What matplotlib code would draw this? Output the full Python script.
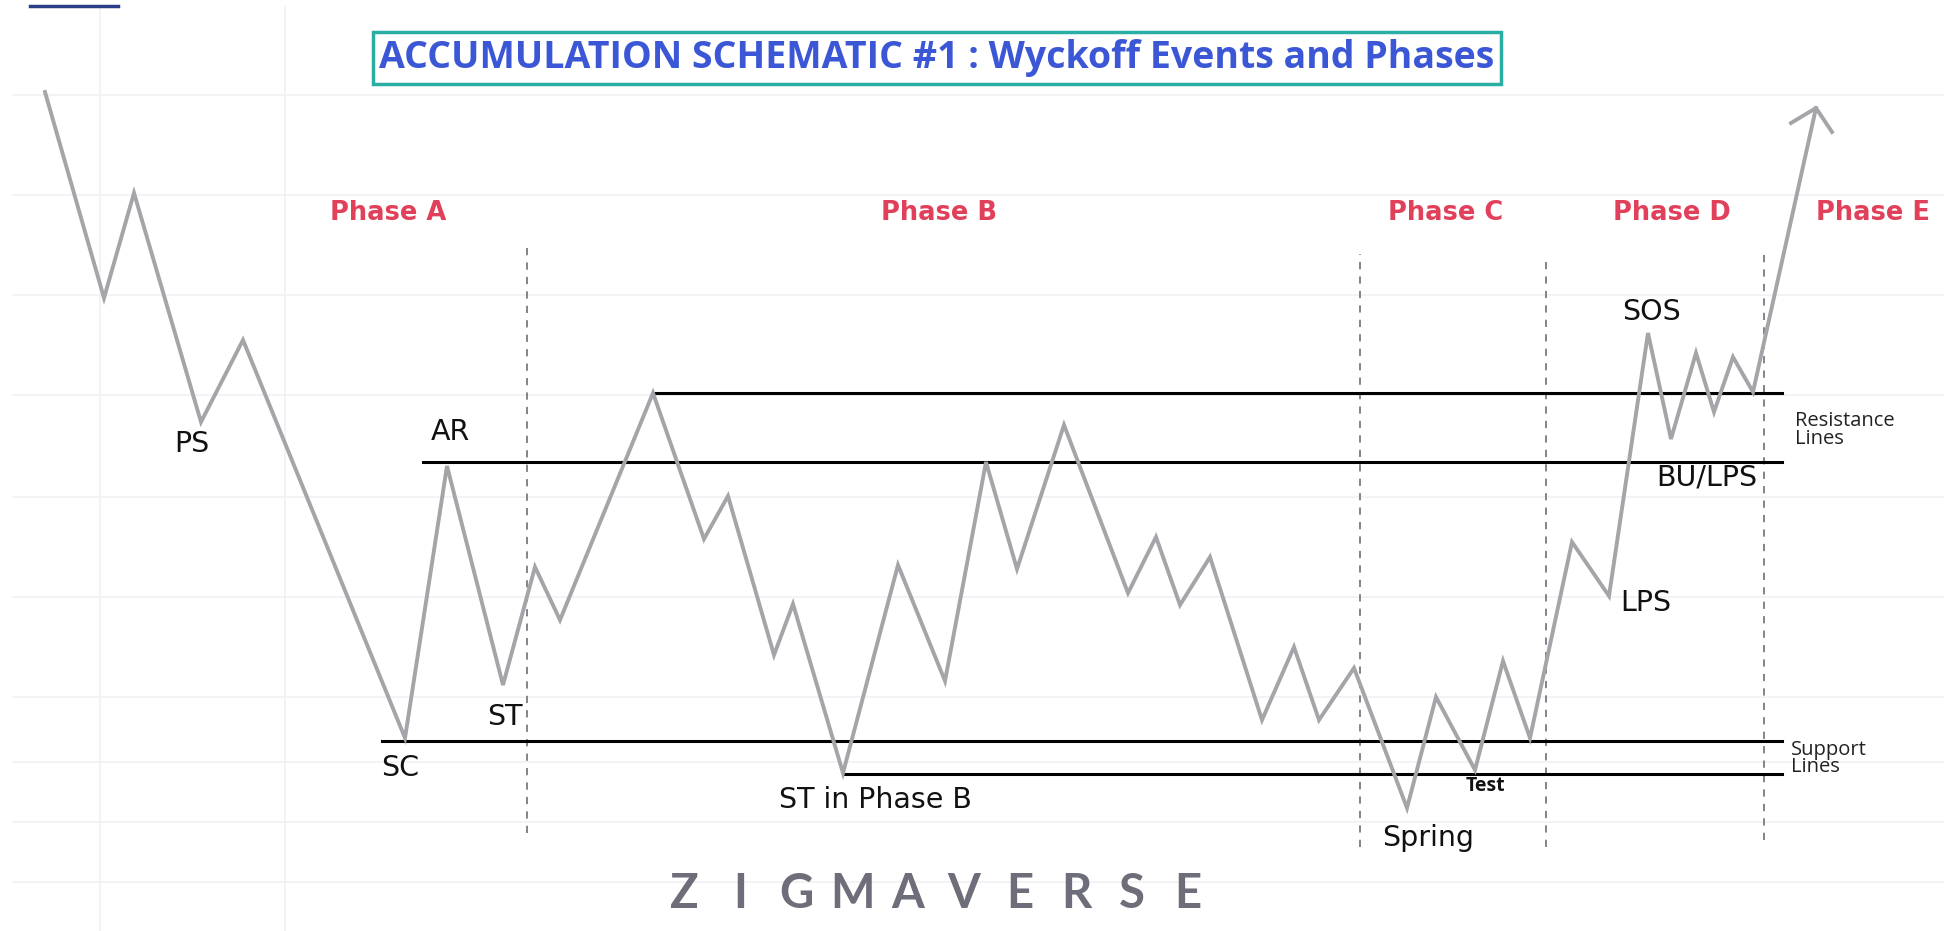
import numpy as np
import matplotlib.pyplot as plt

# price path of the schematic (time, price)
t = [45, 104, 134, 201, 243, 405, 447, 503, 535, 560, 653, 704, 728, 774, 793,
     843, 898, 945, 986, 1017, 1064, 1128, 1156, 1180, 1210, 1262, 1294, 1319,
     1354, 1407, 1436, 1475, 1503, 1530, 1572, 1609, 1648, 1671, 1696, 1714,
     1733, 1753, 1816]
price = [839, 633, 738, 509, 591, 193, 465, 246, 364, 311, 538, 392, 435, 276,
         327, 158, 366, 250, 469, 362, 506, 338, 394, 326, 374, 211, 284, 211,
         263, 123, 234, 161, 270, 193, 389, 335, 598, 492, 578, 519, 574, 539, 823]

# arrow head at the end of the markup
arrow_t = [1791, 1816, 1832]
arrow_p = [808, 823, 799]

# resistance / support levels (level, start, end)
levels = [538, 469, 190, 157]
level_start = [653, 423, 382, 843]
level_end = 1782

# phase dividers
div_t = [527, 1360, 1546, 1764]
div_top = [683, 677, 674, 679]
div_bot = [98, 84, 84, 91]

phases = ['Phase A', 'Phase B', 'Phase C', 'Phase D', 'Phase E']
phase_t = [388, 939, 1446, 1672, 1873]

events = ['PS', 'AR', 'SC', 'ST', 'ST in Phase B', 'Spring', 'LPS', 'SOS', 'BU/LPS']
event_t = [192, 450, 400, 505, 875, 1428, 1646, 1651, 1707]
event_p = [487, 499, 163, 214, 131, 93, 328, 619, 454]

grid_h = [836, 736, 636, 536, 434, 334, 234, 169, 109, 49]
grid_v = [100, 285]

fig = plt.figure(figsize=(19.44, 9.31), dpi=100)
ax = fig.add_axes([0, 0, 1, 1])
ax.set_xlim(0, 1944)
ax.set_ylim(0, 931)
ax.axis('off')

for g in grid_h:
    ax.plot([13, 1944], [g, g], color='#f1f1f3', lw=1.2, zorder=0)
for g in grid_v:
    ax.plot([g, g], [0, 924], color='#f1f1f3', lw=1.2, zorder=0)

ax.plot([30, 118], [925, 925], color='#2b3d86', lw=2.5)

ax.plot(t, price, color='#a4a4a9', lw=2.8, solid_joinstyle='miter', zorder=3)
ax.plot(arrow_t, arrow_p, color='#a4a4a9', lw=2.8, zorder=3)

for lv, st in zip(levels, level_start):
    ax.plot([st, level_end], [lv, lv], color='black', lw=2.2, zorder=2)

for x, top, bot in zip(div_t, div_top, div_bot):
    ax.plot([x, x], [bot, top], color='#7a7a80', lw=1.3, ls=(0, (4, 4)), zorder=1)

font = ['DejaVu Sans']

for name, x in zip(phases, phase_t):
    ax.text(x, 718, name, color='#e0405a', fontsize=18.5, fontweight='bold',
            ha='center', va='center', family=font)

for name, x, y in zip(events, event_t, event_p):
    ax.text(x, y, name, color='#111111', fontsize=20.5, ha='center', va='center', family=font)

ax.text(1485, 145, 'Test', color='#111111', fontsize=14, fontweight='bold',
        ha='center', va='center', family=['Open Sans', 'DejaVu Sans'])
ax.text(1795, 501, 'Resistance\nLines', color='#222222', fontsize=14.5, ha='left',
        va='center', linespacing=0.8, family=['Open Sans', 'DejaVu Sans'])
ax.text(1791, 173, 'Support\nLines', color='#222222', fontsize=14.5, ha='left',
        va='center', linespacing=0.8, family=['Open Sans', 'DejaVu Sans'])

ax.text(937, 873, 'ACCUMULATION SCHEMATIC #1 : Wyckoff Events and Phases',
        color='#3b57d6', fontsize=27, fontweight='bold', ha='center', va='center',
        family=['Open Sans', 'DejaVu Sans'],
        bbox=dict(boxstyle='square,pad=0.18', fc='white', ec='#2aaea3', lw=2.5))

mark = 'ZIGMAVERSE'
for i, ch in zip(np.linspace(684, 1188, len(mark)), mark):
    ax.text(i, 37, ch, color='#6e6e7a', fontsize=34, fontweight='bold',
            ha='center', va='center', family=['Lato', 'DejaVu Sans'])

plt.savefig('out.png', dpi=100)
